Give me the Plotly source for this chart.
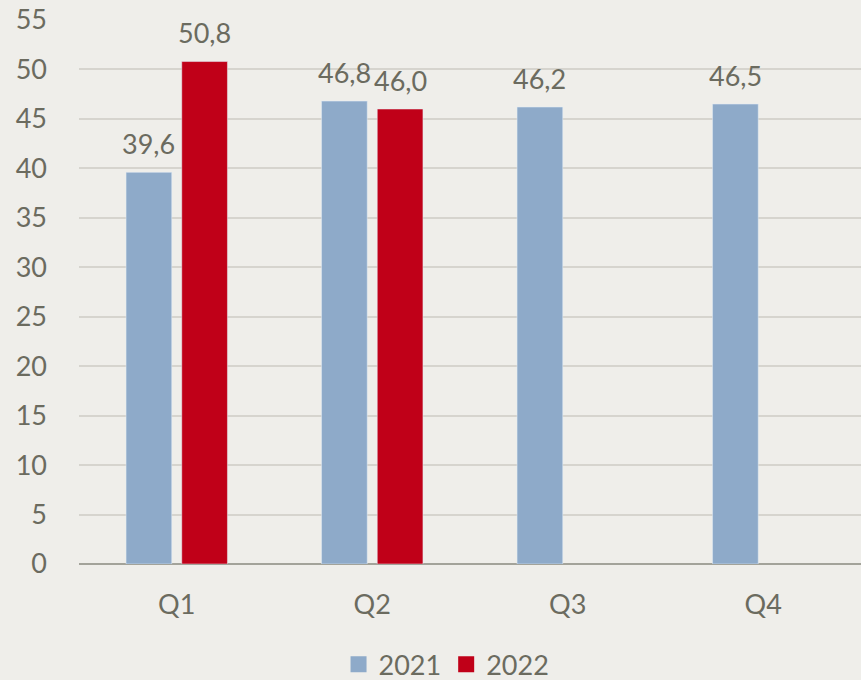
import plotly.graph_objects as go

quarters = ["Q1", "Q2", "Q3", "Q4"]
values_2021 = [39.6, 46.8, 46.2, 46.5]
values_2022 = [50.8, 46.0, None, None]
series_names = ["2021", "2022"]
y_ticks = list(range(0, 60, 5))

font_family = "Lato, 'Open Sans', sans-serif"
text_color = "#6b6b5f"
colors = ["#8eaac9", "#c00018"]
FS = 27

fig = go.Figure()
for name, vals, col in zip(series_names, (values_2021, values_2022), colors):
    fig.add_trace(go.Bar(x=quarters, y=vals, name=name, marker=dict(color=col), showlegend=False))
# legend entries with larger square swatches
for name, col in zip(series_names, colors):
    fig.add_trace(go.Scatter(x=[None], y=[None], name=name, mode="markers",
                             marker=dict(symbol="square", size=16, color=col), showlegend=True))

# data labels, placed at each bar's value via the axes
annotations = []
for series, shift in ((values_2021, -28), (values_2022, 28)):
    for q, v in zip(quarters, series):
        if v is None:
            continue
        annotations.append(dict(
            x=q, y=v, xref="x", yref="y", text=f"{v:.1f}".replace(".", ","),
            showarrow=False, xshift=shift, yshift=29, yanchor="middle",
            font=dict(size=FS, color=text_color, family=font_family),
        ))

fig.update_layout(
    width=861, height=680,
    margin=dict(l=79, r=0, t=20, b=116, autoexpand=False),
    paper_bgcolor="#efeeea", plot_bgcolor="#efeeea",
    barmode="group", bargap=0.43, bargroupgap=0.18,
    font=dict(family=font_family, size=FS, color=text_color),
    showlegend=True,
    legend=dict(orientation="h", x=0.47, xanchor="center", y=-0.185, yanchor="middle",
                font=dict(size=FS, color=text_color), bgcolor="rgba(0,0,0,0)", itemwidth=30),
    annotations=annotations,
)
fig.update_xaxes(showgrid=False, showline=False, ticks="", ticklabelstandoff=22,
                 tickfont=dict(size=FS, color=text_color))
fig.update_yaxes(range=[0, 55], tickvals=y_ticks, showgrid=True, gridcolor="#d6d4ce", gridwidth=2,
                 zeroline=True, zerolinecolor="#a3a39a", zerolinewidth=2,
                 ticks="", ticklabelstandoff=31, tickfont=dict(size=FS, color=text_color))

fig.write_html("out.html", config={"displayModeBar": False})

# remove the browser's default page margin so the figure fills the window
with open("out.html", encoding="utf-8") as f:
    html = f.read()
html = html.replace("<head>", "<head><style>html,body{margin:0;padding:0;overflow:hidden;background:#efeeea;}</style>", 1)
with open("out.html", "w", encoding="utf-8") as f:
    f.write(html)
